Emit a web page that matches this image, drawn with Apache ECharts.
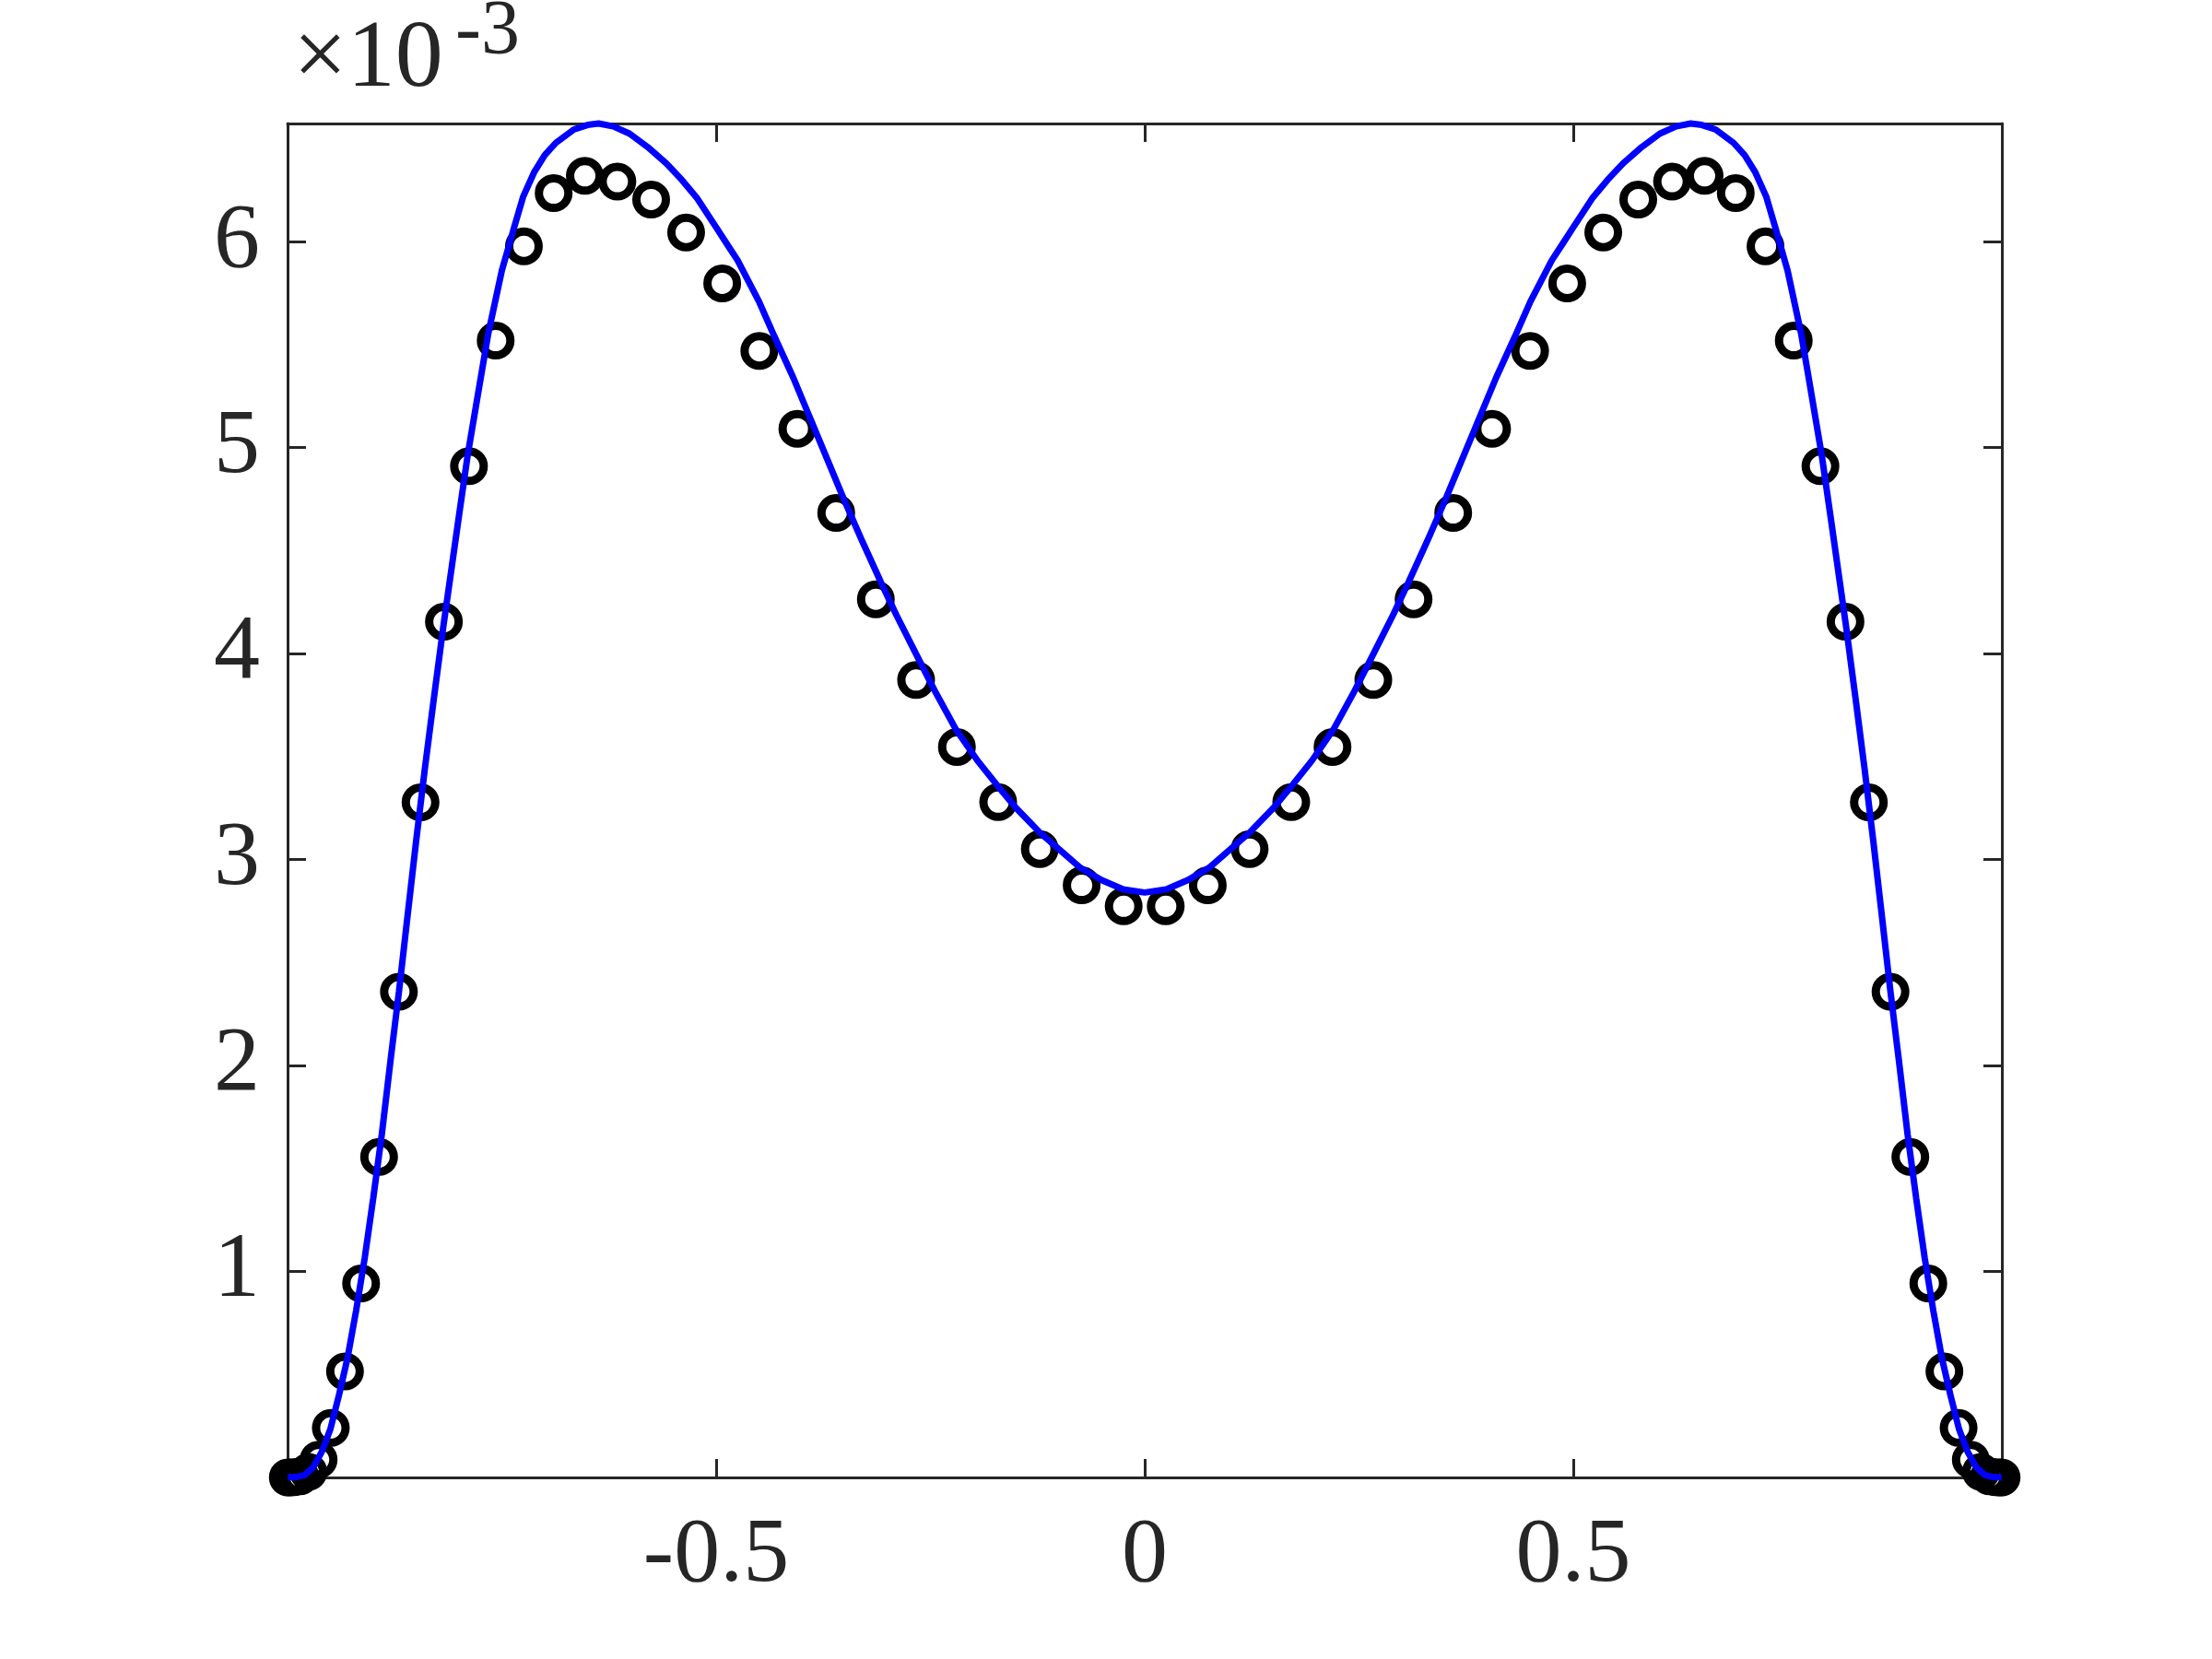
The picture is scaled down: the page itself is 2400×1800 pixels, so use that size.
<!DOCTYPE html>
<html><head><meta charset="utf-8">
<script src="https://cdn.jsdelivr.net/npm/echarts@6/dist/echarts.min.js"></script>
<style>html,body{margin:0;padding:0;background:#fff}#c{width:2400px;height:1800px}</style>
</head><body><div id="c"></div>
<script>
// Values are in units of 10^-3 (as labelled on the chart)
const markerX = [-0.99970,-0.99729,-0.99248,-0.98528,-0.97570,-0.96378,-0.94953,-0.93299,-0.91421,-0.89322,-0.87009,-0.84485,-0.81758,-0.78835,-0.75721,-0.72425,-0.68954,-0.65317,-0.61523,-0.57581,-0.53500,-0.49290,-0.44961,-0.40524,-0.35990,-0.31368,-0.26671,-0.21910,-0.17096,-0.12241,-0.07356,-0.02454,
  0.02454,0.07356,0.12241,0.17096,0.21910,0.26671,0.31368,0.35990,0.40524,0.44961,0.49290,0.53500,0.57581,0.61523,0.65317,0.68954,0.72425,0.75721,0.78835,0.81758,0.84485,0.87009,0.89322,0.91421,0.93299,0.94953,0.96378,0.97570,0.98528,0.99248,0.99729,0.99970];
const markerY = [0.000,0.000,0.001,0.006,0.027,0.086,0.240,0.515,0.942,1.556,2.358,3.278,4.155,4.910,5.520,5.978,6.236,6.320,6.292,6.205,6.045,5.798,5.470,5.092,4.683,4.264,3.872,3.547,3.279,3.051,2.875,2.773,
  2.773,2.875,3.051,3.279,3.547,3.872,4.264,4.683,5.092,5.470,5.798,6.045,6.205,6.292,6.320,6.236,5.978,5.520,4.910,4.155,3.278,2.358,1.556,0.942,0.515,0.240,0.086,0.027,0.006,0.001,0.000,0.000];

const curveX = [-0.9997,-0.990,-0.980,-0.970,-0.960,-0.950,-0.940,-0.930,-0.920,-0.910,-0.900,-0.890,-0.880,-0.870,-0.860,-0.850,-0.840,-0.830,-0.818,-0.800,-0.790,-0.775,-0.766,-0.750,-0.737,-0.725,-0.712,-0.700,-0.687,-0.666,-0.650,-0.637,-0.620,-0.601,-0.580,-0.558,-0.540,-0.522,-0.500,-0.486,-0.475,-0.450,-0.432,-0.410,-0.393,-0.370,-0.352,-0.330,-0.307,-0.290,-0.267,-0.245,-0.220,-0.195,-0.172,-0.150,-0.122,-0.100,-0.075,-0.050,-0.025,0,
  0.025,0.050,0.075,0.100,0.122,0.150,0.172,0.195,0.220,0.245,0.267,0.290,0.307,0.330,0.352,0.370,0.393,0.410,0.432,0.450,0.475,0.486,0.500,0.522,0.540,0.558,0.580,0.601,0.620,0.637,0.650,0.666,0.687,0.700,0.712,0.725,0.737,0.750,0.766,0.775,0.790,0.800,0.818,0.830,0.840,0.850,0.860,0.870,0.880,0.890,0.900,0.910,0.920,0.930,0.940,0.950,0.960,0.970,0.980,0.990,0.9997];
const curveY = [0.000,0.002,0.012,0.050,0.125,0.235,0.400,0.580,0.810,1.065,1.357,1.667,2.020,2.360,2.727,3.090,3.435,3.760,4.140,4.670,4.960,5.330,5.550,5.860,6.050,6.220,6.340,6.420,6.480,6.545,6.567,6.574,6.560,6.525,6.460,6.380,6.300,6.210,6.070,5.980,5.910,5.710,5.540,5.340,5.170,4.940,4.760,4.550,4.340,4.190,4.000,3.820,3.630,3.480,3.360,3.250,3.130,3.050,2.960,2.900,2.855,2.840,
  2.855,2.900,2.960,3.050,3.130,3.250,3.360,3.480,3.630,3.820,4.000,4.190,4.340,4.550,4.760,4.940,5.170,5.340,5.540,5.710,5.910,5.980,6.070,6.210,6.300,6.380,6.460,6.525,6.560,6.574,6.567,6.545,6.480,6.420,6.340,6.220,6.050,5.860,5.550,5.330,4.960,4.670,4.140,3.760,3.435,3.090,2.727,2.360,2.020,1.667,1.357,1.065,0.810,0.580,0.400,0.235,0.125,0.050,0.012,0.002,0.000];

const xTickLabels = [-0.5, 0, 0.5];
const yTickLabels = [1, 2, 3, 4, 5, 6];
const exponentBase = '×10';
const exponentPower = '-3';

const FONT = '"Liberation Serif", "DejaVu Serif", serif';
const AXIS_COLOR = '#262626';

const markerData = markerX.map((x, i) => [x, markerY[i]]);
const curveData = curveX.map((x, i) => [x, curveY[i]]);

const chart = echarts.init(document.getElementById('c'), null, {renderer: 'canvas'});

const axisLineStyle = {show: true, onZero: false, lineStyle: {color: AXIS_COLOR, width: 3}};
const tickStyle = {show: true, inside: true, length: 20, lineStyle: {color: AXIS_COLOR, width: 3}};

chart.setOption({
  backgroundColor: '#ffffff',
  animation: false,
  grid: {left: 312, right: 228, top: 134, bottom: 197, containLabel: false},
  xAxis: [
    {
      type: 'value', position: 'bottom', min: -1, max: 1, interval: 0.5,
      axisLine: axisLineStyle, axisTick: tickStyle, splitLine: {show: false},
      axisLabel: {
        show: true, margin: 36, fontFamily: FONT, fontSize: 100, color: AXIS_COLOR,
        formatter: v => xTickLabels.some(t => Math.abs(t - v) < 1e-9) ? String(v) : ''
      }
    },
    {
      type: 'value', position: 'top', min: -1, max: 1, interval: 0.5,
      axisLine: axisLineStyle, axisTick: tickStyle, splitLine: {show: false},
      axisLabel: {show: false}
    }
  ],
  yAxis: [
    {
      type: 'value', position: 'left', min: 0, max: 6.574, interval: 1,
      axisLine: axisLineStyle, axisTick: tickStyle, splitLine: {show: false},
      axisLabel: {
        show: true, margin: 30, fontFamily: FONT, fontSize: 100, color: AXIS_COLOR,
        formatter: v => yTickLabels.some(t => Math.abs(t - v) < 1e-9) ? String(v) : ''
      }
    },
    {
      type: 'value', position: 'right', min: 0, max: 6.574, interval: 1,
      axisLine: axisLineStyle, axisTick: tickStyle, splitLine: {show: false},
      axisLabel: {show: false}
    }
  ],
  series: [
    {
      type: 'scatter', xAxisIndex: 0, yAxisIndex: 0, data: markerData,
      symbol: 'circle', symbolSize: 32,
      itemStyle: {color: 'rgba(0,0,0,0)', borderColor: '#000000', borderWidth: 9, opacity: 1},
      clip: false, z: 3
    },
    {
      type: 'line', xAxisIndex: 0, yAxisIndex: 0, data: curveData,
      showSymbol: false, symbol: 'none', smooth: false,
      lineStyle: {color: '#0000ff', width: 7}, clip: false, z: 4
    }
  ],
  graphic: [
    {type: 'text', left: 318, top: 14, style: {text: exponentBase, font: '104px ' + FONT, fill: AXIS_COLOR}},
    {type: 'text', left: 494, top: -6, style: {text: exponentPower, font: '84px ' + FONT, fill: AXIS_COLOR}}
  ]
});
</script>
</body></html>
